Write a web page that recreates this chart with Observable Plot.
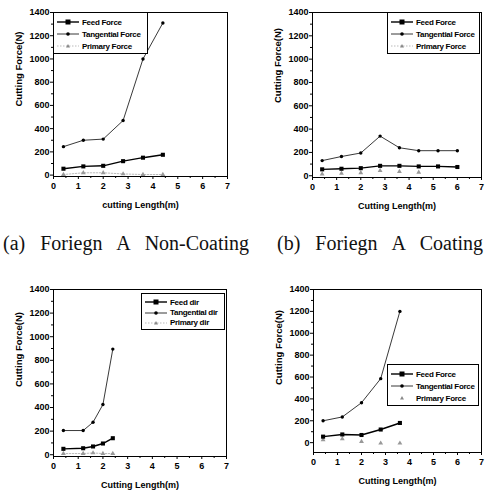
<!DOCTYPE html>
<html>
<head>
<meta charset="utf-8">
<script src="https://cdn.jsdelivr.net/npm/d3@7"></script>
<script src="https://cdn.jsdelivr.net/npm/@observablehq/plot@0.6"></script>
<style>
  html, body { margin: 0; padding: 0; background: #fff; overflow: hidden; }
  #root { position: relative; width: 485px; height: 490px; overflow: hidden; background: #fff; }
  .panel { position: absolute; }
  .panel svg { max-width: none !important; }
  .caption { position: absolute; font-family: "Liberation Serif", "Times New Roman", serif; font-size: 20px; word-spacing: 10px; white-space: nowrap; color: #111; }
  .legend { position: absolute; border: 1px solid #000; box-sizing: border-box; background: #fff;
            font-family: "Liberation Sans", Arial, sans-serif; font-size: 8px; font-weight: bold; color: #000; }
  .legend .row { position: absolute; left: 0; height: 10px; display: flex; align-items: center; white-space: nowrap; letter-spacing: -0.3px; }
  .legend svg { display: block; margin-right: 3px; }
</style>
</head>
<body>
<div id="root"></div>
<script>
// ---------- data ----------
const xTicks = [0, 1, 2, 3, 4, 5, 6, 7];
const yTicks = [0, 200, 400, 600, 800, 1000, 1200, 1400];

// (a) Foriegn A Non-Coating
const xA = [0.4, 1.2, 2.0, 2.8, 3.6, 4.4];
const feedA = [55, 75, 80, 120, 150, 175];
const tangA = [245, 300, 310, 470, 1000, 1310];
const primA = [5, 20, 20, 10, 5, 5];

// (b) Foriegn A Coating
const xB = [0.4, 1.2, 2.0, 2.8, 3.6, 4.4, 5.2, 6.0];
const feedB = [55, 60, 65, 85, 85, 80, 80, 75];
const tangB = [130, 165, 195, 340, 240, 215, 215, 215];
const xBp = [0.4, 1.2, 2.0, 2.8, 3.6, 4.4];
const primB = [15, 20, 25, 45, 35, 30];

// (c)
const xC = [0.4, 1.2, 1.6, 2.0, 2.4];
const feedC = [50, 55, 70, 95, 140];
const tangC = [205, 205, 275, 425, 895];
const primC = [10, 10, 15, 10, 10];

// (d)
const xD = [0.4, 1.2, 2.0, 2.8, 3.6];
const feedD = [55, 75, 70, 120, 180];
const tangD = [200, 235, 365, 585, 1200];
const primD = [25, 35, 10, -5, -5];

const namesForce = ["Feed Force", "Tangential Force", "Primary Force"];
const namesDir = ["Feed dir", "Tangential dir", "Primary dir"];
const yLabel = "Cutting Force(N)";

const captions = ["(a) Foriegn A Non-Coating", "(b) Foriegn A Coating"];

// ---------- helpers ----------
const pts = (xs, ys) => xs.map((x, i) => ({x, y: ys[i]}));
const root = document.getElementById("root");

function makePanel(cfg) {
  const W = cfg.right + 14, H = cfg.bottom + 40;
  const feed = pts(cfg.x, cfg.feed), tang = pts(cfg.x, cfg.tang), prim = pts(cfg.xp || cfg.x, cfg.prim);
  const marks = [
    Plot.frame({stroke: "#000", strokeWidth: 1}),
    Plot.axisX(d3.range(0.5, 7, 1), {tickSize: 2, tickFormat: () => "", label: null}),
    Plot.axisY(d3.range(100, 1400, 200), {tickSize: 2, tickFormat: () => "", label: null}),
    Plot.axisX(xTicks, {tickSize: 3, tickPadding: 3, tickFormat: d => String(d), label: cfg.xlabel, labelArrow: "none", labelAnchor: "center", labelOffset: 31, fontSize: 9}),
    Plot.axisY(yTicks, {tickSize: 3, tickPadding: 1, tickFormat: d => String(d), label: null, fontSize: 9}),
    Plot.text([yLabel], {text: d => d, frameAnchor: "left", rotate: -90, dx: -35, dy: cfg.labelDy, fontSize: 9.5, fontWeight: "bold", fill: "#000"})
  ];
  if (cfg.primLine) marks.push(Plot.line(prim, {x: "x", y: "y", stroke: "#aaa", strokeWidth: 0.8, strokeDasharray: "1.5,1.5"}));
  marks.push(
    Plot.dot(prim, {x: "x", y: "y", symbol: "triangle", r: 1.8, fill: "#999"}),
    Plot.line(tang, {x: "x", y: "y", stroke: "#222", strokeWidth: 0.9}),
    Plot.dot(tang, {x: "x", y: "y", symbol: "circle", r: 1.7, fill: "#000"}),
    Plot.line(feed, {x: "x", y: "y", stroke: "#000", strokeWidth: 1.4}),
    Plot.dot(feed, {x: "x", y: "y", symbol: "square", r: 2.3, fill: "#000"})
  );
  const svg = Plot.plot({
    width: W, height: H,
    marginLeft: cfg.left, marginRight: W - cfg.right, marginTop: cfg.top, marginBottom: H - cfg.bottom,
    style: {fontFamily: "Liberation Sans, Arial, sans-serif", fontSize: "9px", fontWeight: "bold", color: "#000", background: "transparent", overflow: "visible"},
    x: {domain: [0, 7]},
    y: {domain: cfg.ydom},
    marks
  });
  const div = document.createElement("div");
  div.className = "panel";
  div.style.left = cfg.ox + "px";
  div.style.top = cfg.oy + "px";
  div.style.width = W + "px";
  div.style.height = H + "px";
  div.appendChild(svg);
  root.appendChild(div);
  return svg;
}

function legend(names, box, primLine) {
  const lg = document.createElement("div");
  lg.className = "legend";
  Object.assign(lg.style, {left: box.x + "px", top: box.y + "px", width: box.w + "px", height: box.h + "px"});
  const rowH = (box.h - 6) / 3;
  const samples = [
    `<line x1="0" y1="5" x2="22" y2="5" stroke="#000" stroke-width="1.4"/><rect x="8.5" y="2.5" width="5" height="5" fill="#000"/>`,
    `<line x1="0" y1="5" x2="22" y2="5" stroke="#222" stroke-width="0.9"/><circle cx="11" cy="5" r="1.8" fill="#000"/>`,
    (primLine ? `<line x1="0" y1="5" x2="22" y2="5" stroke="#aaa" stroke-width="0.8" stroke-dasharray="1.5,1.5"/>` : ``) +
      `<path d="M11,3 L13,6.6 L9,6.6 Z" fill="#888"/>`
  ];
  names.forEach((n, i) => {
    const r = document.createElement("div");
    r.className = "row";
    r.style.top = (3 + i * rowH + rowH / 2 - 5) + "px";
    r.style.left = box.pad + "px";
    r.innerHTML = `<svg width="22" height="10">${samples[i]}</svg><span>${n}</span>`;
    lg.appendChild(r);
  });
  root.appendChild(lg);
}

makePanel({ox: 0, oy: 0, left: 53, right: 227, top: 12, bottom: 176, ydom: [-12, 1400], labelDy: 12,
  x: xA, feed: feedA, tang: tangA, prim: primA, primLine: true, xlabel: "cutting Length(m)"});
makePanel({ox: 240, oy: 0, left: 72, right: 241, top: 12, bottom: 177, ydom: [-15, 1400], labelDy: 8,
  x: xB, xp: xBp, feed: feedB, tang: tangB, prim: primB, primLine: false, xlabel: "Cutting Length(m)"});
makePanel({ox: 0, oy: 240, left: 53, right: 226, top: 49, bottom: 216, ydom: [-15, 1400], labelDy: 14,
  x: xC, feed: feedC, tang: tangC, prim: primC, primLine: true, xlabel: "Cutting Length(m)"});
makePanel({ox: 240, oy: 240, left: 73, right: 241, top: 49, bottom: 212, ydom: [-90, 1400], labelDy: 14,
  x: xD, feed: feedD, tang: tangD, prim: primD, primLine: false, xlabel: "Cutting Length(m)"});

legend(namesForce, {x: 53, y: 12, w: 95, h: 42, pad: 3}, true);
legend(namesForce, {x: 387, y: 12, w: 93, h: 42, pad: 3}, true);
legend(namesDir, {x: 141, y: 293, w: 84, h: 37, pad: 3}, true);
legend(namesForce, {x: 387, y: 364, w: 92, h: 42, pad: 3}, false);

captions.forEach((t, i) => {
  const c = document.createElement("div");
  c.className = "caption";
  c.textContent = t;
  c.style.left = (i === 0 ? 3 : 277) + "px";
  c.style.top = "232px";
  root.appendChild(c);
});
</script>
</body>
</html>
